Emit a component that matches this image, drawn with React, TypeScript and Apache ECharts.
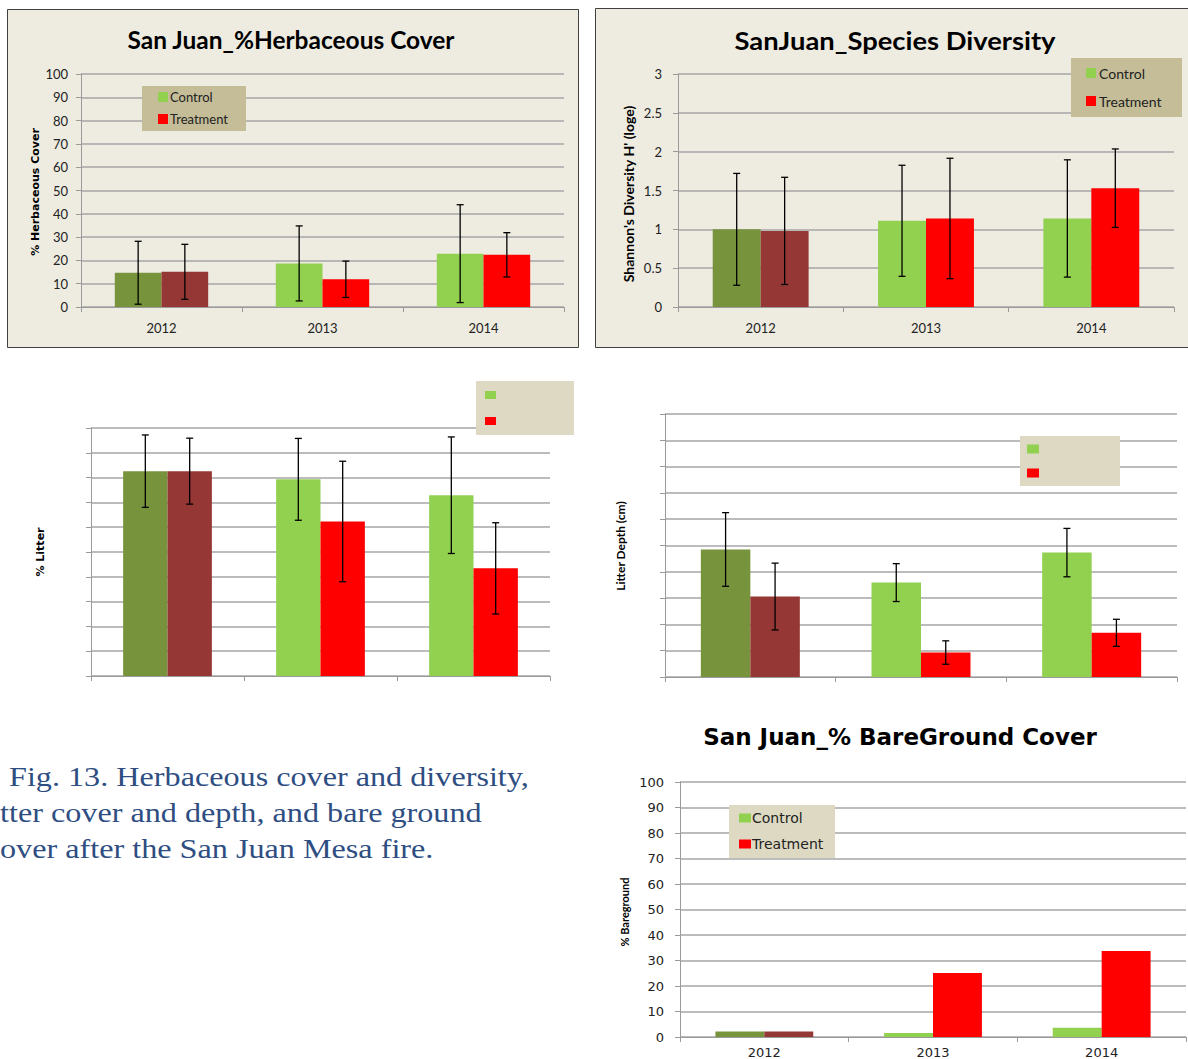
import React, { useEffect, useRef } from 'react';
import * as echarts from 'echarts';

const years = ['2012', '2013', '2014'];

const herbControl = [14.7, 18.7, 22.9];
const herbControlErr = [13.5, 16.1, 21.0];
const herbTreatment = [15.1, 11.9, 22.4];
const herbTreatmentErr = [11.8, 7.8, 9.5];

const divControl = [1.0, 1.11, 1.14];
const divControlErr = [0.72, 0.715, 0.755];
const divTreatment = [0.98, 1.14, 1.53];
const divTreatmentErr = [0.69, 0.775, 0.505];

const litterControl = [82.6, 79.3, 72.9];
const litterControlErr = [14.6, 16.5, 23.5];
const litterTreatment = [82.6, 62.3, 43.4];
const litterTreatmentErr = [13.3, 24.3, 18.4];

const depthControl = [4.85, 3.59, 4.73];
const depthControlErr = [1.4, 0.72, 0.92];
const depthTreatment = [3.06, 0.93, 1.68];
const depthTreatmentErr = [1.27, 0.445, 0.515];

const bareControl = [2.2, 1.6, 3.6];
const bareTreatment = [2.2, 25.1, 33.7];

const captionLines = [
  'Fig. 13. Herbaceous cover and diversity,',
  'tter cover and depth, and bare ground',
  'over after the San Juan Mesa fire.',
];

const C_CONTROL = '#92D050';
const C_TREAT = '#FF0000';
const C_CONTROL_2012 = '#77933C';
const C_TREAT_2012 = '#953735';
const GAP = 0.42;

const barData = (vals: number[], firstColor: string) =>
  vals.map((v, i) => (i === 0 ? { value: v, itemStyle: { color: firstColor } } : v));

function bars(k: number, name: string, vals: number[], color: string, firstColor: string) {
  return {
    type: 'bar',
    name,
    xAxisIndex: k,
    yAxisIndex: k,
    barGap: '0%',
    barCategoryGap: GAP * 100 + '%',
    itemStyle: { color },
    data: barData(vals, firstColor),
    z: 2,
  };
}

function errBars(k: number, vals: number[], errs: number[], side: number) {
  return {
    type: 'custom',
    name: 'err' + k + side,
    xAxisIndex: k,
    yAxisIndex: k,
    z: 3,
    renderItem: (params: any, api: any) => {
      const i = api.value(0);
      const v = api.value(1);
      const e = api.value(2);
      const band = api.size([1, 0])[0];
      const off = (side * band * (1 - GAP)) / 4;
      const top = api.coord([i, v + e]);
      const bot = api.coord([i, v - e]);
      const x = top[0] + off;
      const st = { stroke: '#000', lineWidth: 1.3 };
      return {
        type: 'group',
        children: [
          { type: 'line', shape: { x1: x, y1: top[1], x2: x, y2: bot[1] }, style: st },
          { type: 'line', shape: { x1: x - 3.5, y1: top[1], x2: x + 3.5, y2: top[1] }, style: st },
          { type: 'line', shape: { x1: x - 3.5, y1: bot[1], x2: x + 3.5, y2: bot[1] }, style: st },
        ],
      };
    },
    data: vals.map((v, i) => [i, v, errs[i]]),
    encode: { x: 0, y: 1 },
  };
}

const axisGray = '#9A9A9A';

function xAxis(k: number, showLabel: boolean, font: string, size: number, margin: number) {
  return {
    gridIndex: k,
    type: 'category',
    data: years,
    axisLine: { show: true, lineStyle: { color: axisGray, width: 1 } },
    axisTick: { show: true, length: 5, lineStyle: { color: axisGray } },
    axisLabel: { show: showLabel, fontFamily: font, fontSize: size, color: '#222', margin },
    splitLine: { show: false },
  };
}

function yAxis(k: number, max: number, interval: number, showLabel: boolean, font: string, size: number, margin: number) {
  return {
    gridIndex: k,
    type: 'value',
    min: 0,
    max,
    interval,
    axisLine: { show: true, lineStyle: { color: axisGray, width: 1 } },
    axisTick: { show: true, length: 5, lineStyle: { color: axisGray } },
    axisLabel: { show: showLabel, fontFamily: font, fontSize: size, color: '#222', margin },
    splitLine: { show: true, lineStyle: { color: '#A6A6A6', width: 1.5 } },
  };
}

function legend(left: number, top: number, iw: number, ih: number, gap: number, lh: number, font: string, size: number, pad: number, showText: boolean) {
  return {
    left,
    top,
    orient: 'vertical',
    padding: 0,
    itemWidth: iw,
    itemHeight: ih,
    itemGap: gap,
    icon: 'rect',
    data: ['Control', 'Treatment'],
    formatter: showText ? (n: string) => n : () => '',
    textStyle: { fontFamily: font, fontSize: size, color: '#222', lineHeight: lh, padding: [0, 0, 0, pad] },
    itemStyle: { borderWidth: 0 },
  };
}

function txt(x: number, y: number, text: string, font: string, size: number, weight: string, rotation = 0, align = 'center', fill = '#000', scaleX = 1) {
  return {
    type: 'text',
    x,
    y,
    rotation,
    scaleX,
    z: 6,
    style: {
      text,
      fontFamily: font,
      fontSize: size,
      fontWeight: weight,
      fill,
      textAlign: align,
      textVerticalAlign: 'middle',
      verticalAlign: 'middle',
    },
  };
}

function rect(x: number, y: number, w: number, h: number, fill: string, z: number, stroke?: string) {
  return {
    type: 'rect',
    z,
    shape: { x, y, width: w, height: h },
    style: { fill, stroke: stroke || 'none', lineWidth: stroke ? 1 : 0 },
  };
}

export default function App() {
  const ref = useRef<HTMLDivElement>(null);
  useEffect(() => {
    if (!ref.current) return;
    const chart = echarts.init(ref.current, null, { renderer: 'svg' });
    const capColor = '#2E4E82';
    const option: any = {
      animation: false,
      backgroundColor: '#FFFFFF',
      grid: [
        { left: 81, top: 74, width: 483, height: 233 },
        { left: 678, top: 74, width: 496, height: 233 },
        { left: 91, top: 428, width: 459, height: 248 },
        { left: 665, top: 414, width: 512, height: 263 },
        { left: 680, top: 782, width: 506, height: 256 },
      ],
      xAxis: [
        xAxis(0, true, 'Lato', 13, 14),
        xAxis(1, true, 'Lato', 13, 14),
        xAxis(2, false, 'Lato', 13, 14),
        xAxis(3, false, 'Lato', 13, 14),
        xAxis(4, true, 'DejaVu Sans', 13, 9),
      ],
      yAxis: [
        yAxis(0, 100, 10, true, 'Lato', 13, 13),
        yAxis(1, 3, 0.5, true, 'Lato', 13, 16),
        yAxis(2, 100, 10, false, 'Lato', 13, 11),
        yAxis(3, 10, 1, false, 'Lato', 13, 11),
        yAxis(4, 100, 10, true, 'DejaVu Sans', 13, 16),
      ],
      legend: [
        legend(158, 90, 10, 10, 8, 14, 'Lato', 13, -3, true),
        legend(1086, 66, 10, 10, 14, 14, 'Lato', 14, -2, true),
        legend(485, 391, 11, 8, 18, 8, 'Lato', 13, 0, false),
        legend(1027, 444.5, 12, 9, 15, 9, 'Lato', 13, 0, false),
        legend(739, 811, 12, 9, 12, 14, 'DejaVu Sans', 14, -4, true),
      ],
      graphic: [
        rect(7.5, 9.5, 571, 338, '#EEECE1', -10, '#404040'),
        rect(595.5, 8.5, 600, 339, '#EEECE1', -10, '#404040'),
        rect(142, 86, 104, 45, '#C4BD97', 3),
        rect(1071, 58, 111, 59, '#C4BD97', 3),
        rect(476, 381, 98, 54, '#DDD9C3', 3),
        rect(1020, 436, 100, 50, '#DDD9C3', 3),
        rect(729, 805, 106, 53, '#DDD9C3', 3),
        txt(291, 40, 'San Juan_%Herbaceous Cover', 'Lato', 24, 'bold', 0, 'center', '#000', 1.02),
        txt(895, 41, 'SanJuan_Species Diversity', 'Lato', 24, 'bold', 0, 'center', '#000', 1.14),
        txt(900, 737, 'San Juan_% BareGround Cover', 'DejaVu Sans', 23, 'bold'),
        txt(35, 192, '% Herbaceous Cover', 'DejaVu Sans', 11, 'bold', Math.PI / 2),
        txt(628, 194, "Shannon's Diversity H' (loge)", 'Lato', 14, 'bold', Math.PI / 2),
        txt(40, 552, '% Litter', 'DejaVu Sans', 11, 'bold', Math.PI / 2),
        txt(620, 546, 'Litter Depth (cm)', 'Lato', 12, 'bold', Math.PI / 2),
        txt(624, 912, '% Bareground', 'Lato', 11, 'bold', Math.PI / 2),
        txt(9, 777, captionLines[0], 'Liberation Serif', 28, 'normal', 0, 'left', capColor, 1.15),
        txt(0, 813, captionLines[1], 'Liberation Serif', 28, 'normal', 0, 'left', capColor, 1.15),
        txt(0, 849, captionLines[2], 'Liberation Serif', 28, 'normal', 0, 'left', capColor, 1.15),
      ],
      series: [
        bars(0, 'Control', herbControl, C_CONTROL, C_CONTROL_2012),
        bars(0, 'Treatment', herbTreatment, C_TREAT, C_TREAT_2012),
        errBars(0, herbControl, herbControlErr, -1),
        errBars(0, herbTreatment, herbTreatmentErr, 1),

        bars(1, 'Control', divControl, C_CONTROL, C_CONTROL_2012),
        bars(1, 'Treatment', divTreatment, C_TREAT, C_TREAT_2012),
        errBars(1, divControl, divControlErr, -1),
        errBars(1, divTreatment, divTreatmentErr, 1),

        bars(2, 'Control', litterControl, C_CONTROL, C_CONTROL_2012),
        bars(2, 'Treatment', litterTreatment, C_TREAT, C_TREAT_2012),
        errBars(2, litterControl, litterControlErr, -1),
        errBars(2, litterTreatment, litterTreatmentErr, 1),

        bars(3, 'Control', depthControl, C_CONTROL, C_CONTROL_2012),
        bars(3, 'Treatment', depthTreatment, C_TREAT, C_TREAT_2012),
        errBars(3, depthControl, depthControlErr, -1),
        errBars(3, depthTreatment, depthTreatmentErr, 1),

        bars(4, 'Control', bareControl, C_CONTROL, C_CONTROL_2012),
        bars(4, 'Treatment', bareTreatment, C_TREAT, C_TREAT_2012),
      ],
    };
    chart.setOption(option);
    return () => chart.dispose();
  }, []);
  return <div ref={ref} style={{ position: 'absolute', left: 0, top: 0, width: 1188, height: 1059 }} />;
}
